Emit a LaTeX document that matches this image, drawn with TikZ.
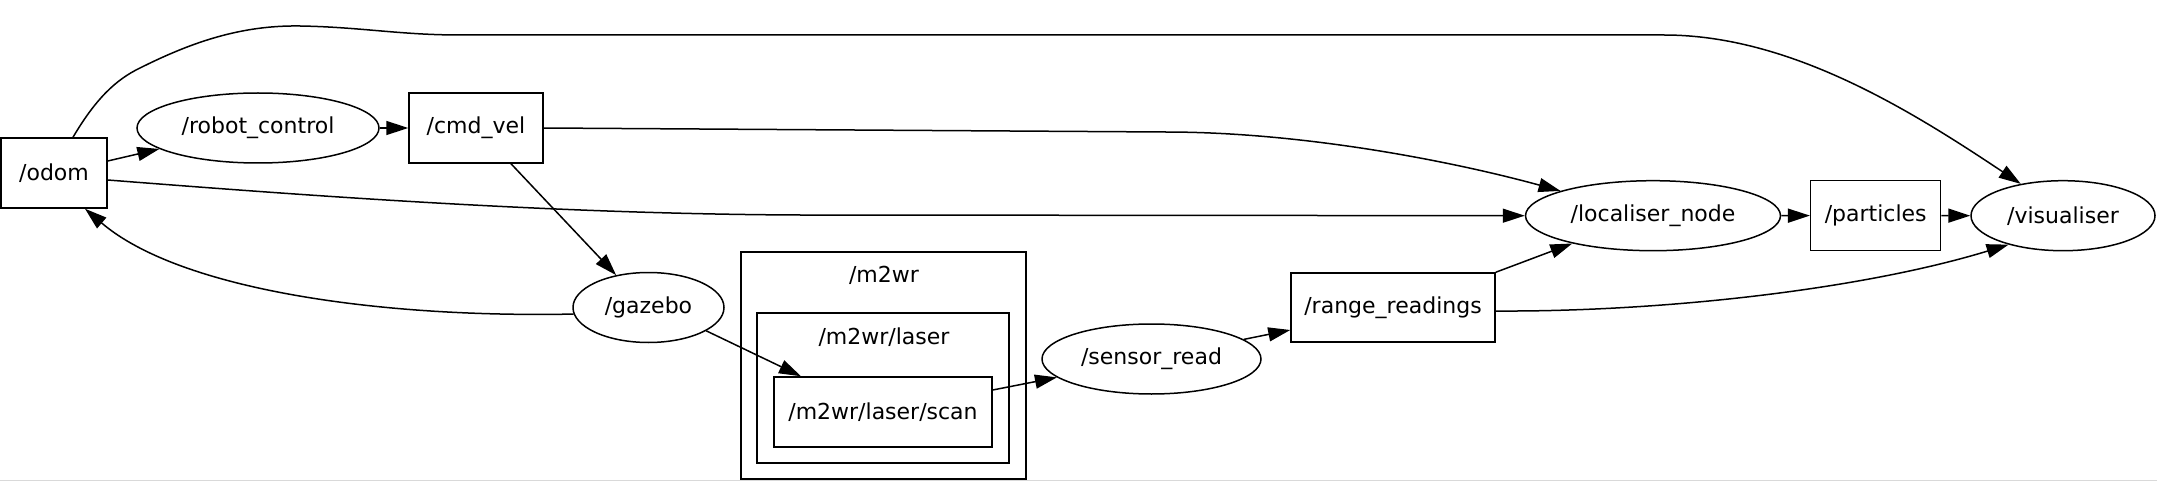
\documentclass[tikz,border=0pt]{standalone}
\usepackage{fontspec}
\setmainfont{DejaVu Sans}
\usetikzlibrary{arrows.meta,shapes.geometric,calc}
\begin{document}
\begin{tikzpicture}[x=1pt,y=-1pt,
  every node/.style={font=\fontsize{22}{26}\selectfont},
  topic/.style={draw,rectangle,inner sep=0pt,line width=1.5pt},
  rosnode/.style={draw,ellipse,inner sep=0pt,line width=1.5pt},
  cluster/.style={draw,rectangle,inner sep=0pt,line width=1.5pt},
  lbl/.style={inner sep=0pt},
  edge/.style={line width=1.5pt,-{Triangle[length=22pt,width=14pt]}}]
\useasboundingbox (0,0) rectangle (2157,481);
\draw[black!15,line width=1pt] (0,480.5) -- (2157,480.5);
\node[topic,minimum width=106pt,minimum height=70pt] (odom) at (54,173) {/odom};
\node[rosnode,minimum width=242pt,minimum height=70pt] (robot) at (258,128) {/robot\_control};
\node[topic,minimum width=134pt,minimum height=70pt] (cmdvel) at (476,128) {/cmd\_vel};
\node[rosnode,minimum width=151pt,minimum height=70pt] (gazebo) at (648.5,307.5) {/gazebo};
\node[cluster,minimum width=285pt,minimum height=227pt] (m2wr) at (883.5,365.5) {};
\node[lbl] (m2wrlbl) at (884,275) {/m2wr};
\node[cluster,minimum width=252pt,minimum height=150pt] (laser) at (883,388) {};
\node[lbl] (laserlbl) at (884,337) {/m2wr/laser};
\node[topic,minimum width=218pt,minimum height=70pt] (scan) at (883,412) {/m2wr/laser/scan};
\node[rosnode,minimum width=219pt,minimum height=70pt] (sensor) at (1151.5,359) {/sensor\_read};
\node[topic,minimum width=204pt,minimum height=69pt] (range) at (1393,307.5) {/range\_readings};
\node[rosnode,minimum width=255pt,minimum height=70pt] (local) at (1653,215.7) {/localiser\_node};
\node[topic,minimum width=130pt,minimum height=70pt] (particles) at (1875.7,215.6) {/particles};
\node[rosnode,minimum width=184pt,minimum height=70pt] (vis) at (2063,215.7) {/visualiser};

\draw[edge] ([xshift=19pt]odom.north) .. controls (95,100) and (115,80) .. (140,68)
  .. controls (190,43) and (240,25) .. (300,26)
  .. controls (360,27) and (400,35) .. (460,35) -- (1664,35)
  .. controls (1790,35) and (1910,110) .. (vis.143);
\draw[edge] ([yshift=12pt]odom.east) -- (robot.192);
\draw[edge] (robot.east) -- (cmdvel.west);
\draw[edge] (cmdvel.east) -- (1165,132) .. controls (1305,132) and (1455,162) .. (local.165);
\draw[edge] ([yshift=-7pt]odom.east) .. controls (300,195) and (550,214) .. (800,215) -- (local.west);
\draw[edge] ([xshift=35pt]cmdvel.south) -- (gazebo.135);
\draw[edge] (gazebo.185) .. controls (380,318) and (180,290) .. ([xshift=31pt]odom.south);
\draw[edge] (gazebo.-22) -- ([xshift=-82pt]scan.north);
\draw[edge] ([yshift=22pt]scan.east) -- (sensor.191);
\draw[edge] (sensor.12) -- ([yshift=-22.5pt]range.west);
\draw[edge] (range.north east) -- (local.199);
\draw[edge] ([yshift=-3.5pt]range.east) .. controls (1660,312) and (1860,290) .. (vis.208);
\draw[edge] (local.east) -- (particles.west);
\draw[edge] (particles.east) -- (vis.west);
\end{tikzpicture}
\end{document}
